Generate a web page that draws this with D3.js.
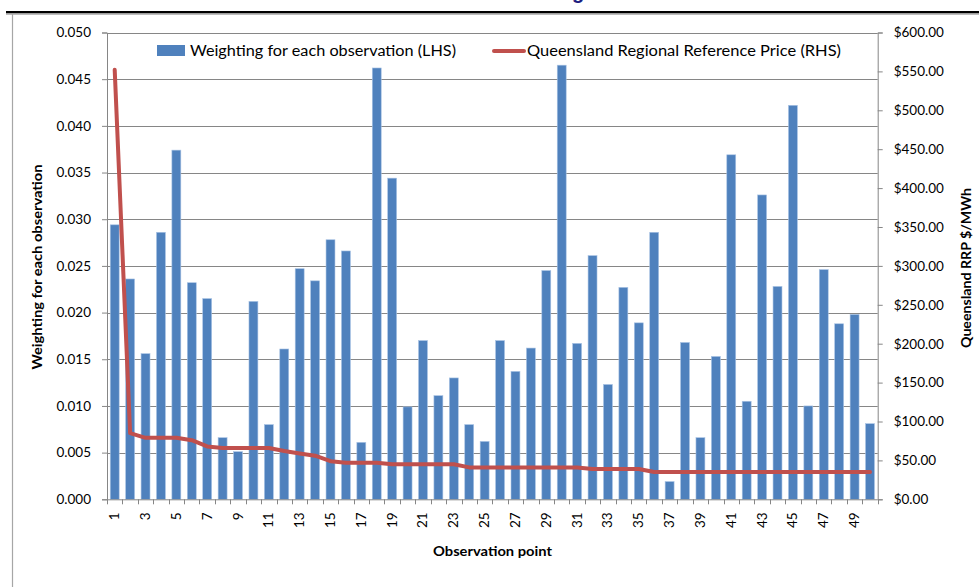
<!DOCTYPE html>
<html>
<head>
<meta charset="utf-8">
<script src="https://cdn.jsdelivr.net/npm/d3@7"></script>
<style>
  html, body { margin: 0; padding: 0; background: #fff; }
  svg { display: block; font-family: Lato, "Open Sans", sans-serif; }
</style>
</head>
<body>
<svg id="chart" width="979" height="587"></svg>
<script>
// Observation points 1..50
const observations = d3.range(1, 51);

// Weighting for each observation (left axis)
const weighting = [
  0.0294, 0.0236, 0.0156, 0.0286, 0.0374, 0.0232, 0.0215, 0.0066, 0.0051, 0.0212,
  0.0080, 0.0161, 0.0247, 0.0234, 0.0278, 0.0266, 0.0061, 0.0462, 0.0344, 0.0099,
  0.0170, 0.0111, 0.0130, 0.0080, 0.0062, 0.0170, 0.0137, 0.0162, 0.0245, 0.0465,
  0.0167, 0.0261, 0.0123, 0.0227, 0.0189, 0.0286, 0.0019, 0.0168, 0.0066, 0.0153,
  0.0369, 0.0105, 0.0326, 0.0228, 0.0422, 0.0100, 0.0246, 0.0188, 0.0198, 0.0081
];

// Queensland Regional Reference Price, $/MWh (right axis)
const rrp = [
  552, 85, 79, 79, 79, 76, 68, 66, 66, 66,
  66, 62, 59, 56, 49, 47, 47, 47, 45, 45,
  45, 45, 45, 41, 41, 41, 41, 41, 41, 41,
  41, 39, 39, 39, 39, 35, 35, 35, 35, 35,
  35, 35, 35, 35, 35, 35, 35, 35, 35, 35
];

const leftTicks = d3.range(0, 11).map(i => i * 0.005);
const rightTicks = d3.range(0, 13).map(i => i * 50);
const xTickLabels = observations.filter(d => d % 2 === 1);

const seriesNames = ["Weighting for each observation (LHS)", "Queensland Regional Reference Price (RHS)"];

const barColor = "#4F81BD";
const lineColor = "#C0504D";
const gridColor = "#868686";

const svg = d3.select("#chart");

// Page heading runs above the top of the sheet; only its descender shows
svg.append("text")
  .attr("x", 572).attr("y", -1.5)
  .attr("font-family", "Liberation Sans, Arial, sans-serif")
  .attr("font-weight", "bold").attr("font-size", 20)
  .attr("fill", "#1C1C80")
  .text("g");

// Frame around the sheet region
svg.append("line").attr("x1", 6).attr("x2", 979).attr("y1", 12.2).attr("y2", 12.2)
  .attr("stroke", "#000").attr("stroke-width", 2.4);
svg.append("line").attr("x1", 6).attr("x2", 979).attr("y1", 14.2).attr("y2", 14.2)
  .attr("stroke", "#BDBDBD").attr("stroke-width", 1.4);
svg.append("line").attr("x1", 12.5).attr("x2", 12.5).attr("y1", 13.5).attr("y2", 587)
  .attr("stroke", "#A6A6A6").attr("stroke-width", 1.2);

const plot = { left: 107, right: 877.7, top: 32.5, bottom: 499.3 };

const x = d3.scaleBand()
  .domain(observations)
  .range([plot.left, plot.right])
  .paddingInner(0)
  .paddingOuter(0);
const barW = x.bandwidth() * 0.58;

const yL = d3.scaleLinear().domain([0, 0.05]).range([plot.bottom, plot.top]);
const yR = d3.scaleLinear().domain([0, 600]).range([plot.bottom, plot.top]);

// Horizontal gridlines
svg.append("g").selectAll("line")
  .data(leftTicks.filter(d => d > 0))
  .join("line")
  .attr("x1", plot.left).attr("x2", plot.right)
  .attr("y1", d => Math.round(yL(d)) + 0.5).attr("y2", d => Math.round(yL(d)) + 0.5)
  .attr("stroke", gridColor).attr("stroke-width", 1);

// Bars
svg.append("g").selectAll("rect")
  .data(observations)
  .join("rect")
  .attr("x", d => x(d) + (x.bandwidth() - barW) / 2)
  .attr("width", barW)
  .attr("y", (d, i) => yL(weighting[i]))
  .attr("height", (d, i) => yL(0) - yL(weighting[i]))
  .attr("fill", barColor)
  .attr("stroke", "#A9C3E4").attr("stroke-width", 0.6);

// Left axis
const axisL = d3.axisLeft(yL).tickValues(leftTicks).tickSize(5).tickPadding(11)
  .tickFormat(d3.format(".3f"));
const gL = svg.append("g").attr("transform", `translate(${plot.left},0)`).call(axisL);

// Right axis
const axisR = d3.axisRight(yR).tickValues(rightTicks).tickSize(5).tickPadding(11)
  .tickFormat(d => "$" + d3.format(",.2f")(d));
const gR = svg.append("g").attr("transform", `translate(${plot.right},0)`).call(axisR);

// Bottom axis: ticks at every category boundary, labels on odd points
const gB = svg.append("g").attr("transform", `translate(0,${plot.bottom})`);
gB.append("line").attr("x1", plot.left).attr("x2", plot.right).attr("y1", 0.5).attr("y2", 0.5)
  .attr("stroke", gridColor);
gB.selectAll("line.tk")
  .data(observations.concat([51]))
  .join("line").attr("class", "tk")
  .attr("x1", d => Math.round(d <= 50 ? x(d) : plot.right) + 0.5)
  .attr("x2", d => Math.round(d <= 50 ? x(d) : plot.right) + 0.5)
  .attr("y1", 0).attr("y2", 5)
  .attr("stroke", gridColor);
gB.selectAll("text")
  .data(xTickLabels)
  .join("text")
  .attr("transform", d => `translate(${x(d) + x.bandwidth() / 2 + 4.5},13) rotate(-90)`)
  .attr("text-anchor", "end")
  .attr("font-size", 13.5)
  .attr("fill", "#000")
  .text(d => d);

[gL, gR].forEach(g => {
  g.select(".domain").attr("stroke", gridColor);
  g.selectAll(".tick line").attr("stroke", gridColor);
  g.selectAll(".tick text").attr("font-size", 13.5).attr("fill", "#000")
    .attr("font-family", "Lato, 'Open Sans', sans-serif");
});

// Price line
const line = d3.line()
  .x(d => x(d) + x.bandwidth() / 2)
  .y((d, i) => yR(rrp[i]))
  .curve(d3.curveLinear);
svg.append("path")
  .datum(observations)
  .attr("d", line)
  .attr("fill", "none")
  .attr("stroke", lineColor)
  .attr("stroke-width", 4)
  .attr("stroke-linejoin", "round")
  .attr("stroke-linecap", "round");

// Legend
const lg = svg.append("g");
lg.append("rect").attr("x", 157).attr("y", 45).attr("width", 28).attr("height", 11).attr("fill", barColor);
lg.append("text").attr("x", 190).attr("y", 55.5).attr("font-size", 14.5)
  .attr("textLength", 266).attr("lengthAdjust", "spacingAndGlyphs")
  .text(seriesNames[0]);
lg.append("line").attr("x1", 494).attr("x2", 524).attr("y1", 51).attr("y2", 51)
  .attr("stroke", lineColor).attr("stroke-width", 4).attr("stroke-linecap", "round");
lg.append("text").attr("x", 527).attr("y", 55.5).attr("font-size", 14.5)
  .attr("textLength", 314).attr("lengthAdjust", "spacingAndGlyphs")
  .text(seriesNames[1]);

// Axis titles
svg.append("text")
  .attr("transform", "translate(42,267) rotate(-90)")
  .attr("text-anchor", "middle").attr("font-weight", "bold").attr("font-size", 13.5)
  .attr("textLength", 205).attr("lengthAdjust", "spacingAndGlyphs")
  .text("Weighting for each observation");
svg.append("text")
  .attr("transform", "translate(971,268) rotate(-90)")
  .attr("text-anchor", "middle").attr("font-weight", "bold").attr("font-size", 13.5)
  .attr("textLength", 160).attr("lengthAdjust", "spacingAndGlyphs")
  .text("Queensland RRP $/MWh");
svg.append("text")
  .attr("x", 492.5).attr("y", 556)
  .attr("text-anchor", "middle").attr("font-weight", "bold").attr("font-size", 13.5)
  .attr("textLength", 119).attr("lengthAdjust", "spacingAndGlyphs")
  .text("Observation point");
</script>
</body>
</html>
